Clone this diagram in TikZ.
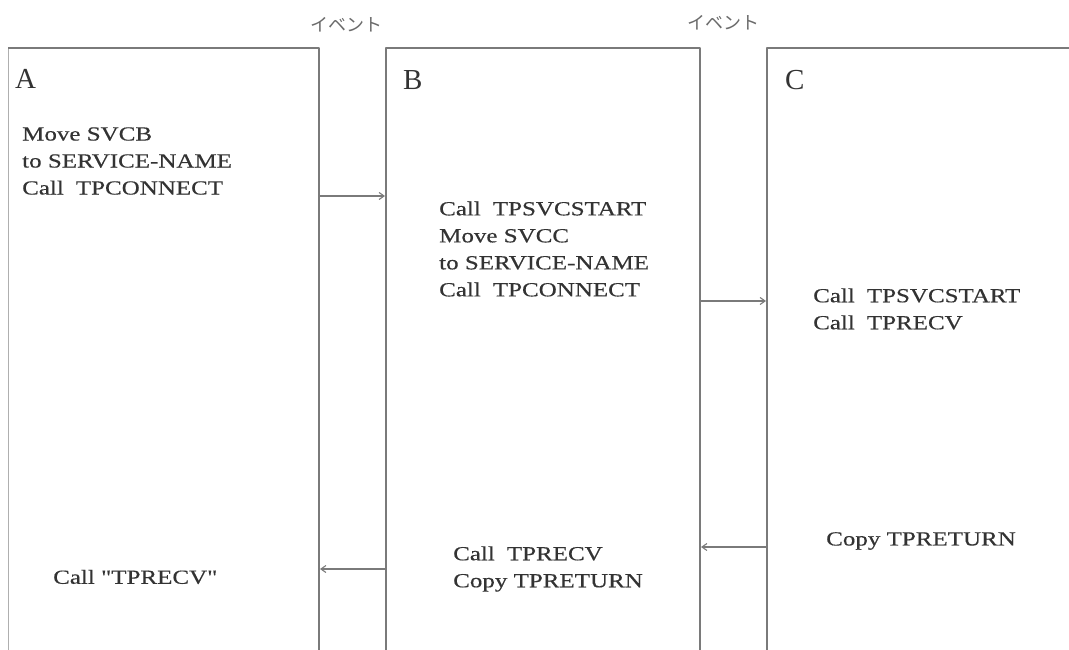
\documentclass[tikz,border=0pt]{standalone}
\usepackage{fontspec}
\setmainfont{Liberation Serif}
\newfontfamily\bodyfont[FakeStretch=1.25,FakeBold=0.4]{Liberation Serif}
\newfontfamily\jpfont{Noto Sans CJK JP}
\usetikzlibrary{arrows.meta}
\usetikzlibrary{positioning}
\definecolor{linegray}{HTML}{7A7A7A}
\definecolor{textgray}{HTML}{333333}
\tikzset{
  lane/.style={draw=linegray,line width=1.6pt},
  msg/.style={draw=linegray,line width=1.1pt,-{Straight Barb[length=5pt,width=7pt]}},
  body/.style={font=\bodyfont\fontsize{20}{27}\selectfont,text=textgray,align=left,anchor=west,inner sep=0pt},
  lanelabel/.style={font=\fontsize{29}{30}\selectfont,text=textgray,anchor=west,inner sep=0pt},
  evt/.style={font=\jpfont\fontsize{18}{18}\selectfont,text=black!58,inner sep=0pt}
}
\newcommand{\callgap}{\hspace{12pt}}

\begin{document}
\begin{tikzpicture}[x=1pt,y=-1pt,line join=round]
\useasboundingbox (0,0) rectangle (1069,650);
% --- the three processes, open at the bottom
\draw[lane,draw=linegray!60,line width=1pt] (8,650) -- (8,48);
\draw[lane] (8,48) -- (319,48) -- (319,650);
\draw[lane] (386,650) -- (386,48) -- (700,48) -- (700,650);
\draw[lane] (767,650) -- (767,48) -- (1069,48);
\node[lanelabel] (labA) at (15,79) {A};
\node[lanelabel] (labB) at (403,80) {B};
\node[lanelabel] (labC) at (785,80) {C};
% --- events between the processes
\node[evt] (evtAB) at (346,25) {イベント};
\node[evt] (evtBC) at (723,23) {イベント};
% --- ends of the messages on the lane edges
\coordinate (aOut) at (319,196);
\coordinate (bIn) at (385,196);
\coordinate (bOut) at (700,301);
\coordinate (cIn) at (766,301);
\coordinate (cRet) at (767,547);
\coordinate (bRet) at (701,547);
\coordinate (bBack) at (386,569);
\coordinate (aBack) at (320,569);
% --- program steps
\node[body] (stepA) at (22,161) {Move SVCB\\to SERVICE-NAME\\Call\callgap TPCONNECT};
\node[body] (stepB) at (439,249) {Call\callgap TPSVCSTART\\Move SVCC\\to SERVICE-NAME\\Call\callgap TPCONNECT};
\node[body] (stepC) at (813,309) {Call\callgap TPSVCSTART\\Call\callgap TPRECV};
\node[body] (retC) at (826,541) {Copy TPRETURN};
\node[body] (retB) at (453,569) {Call\callgap TPRECV\\Copy TPRETURN};
\node[body] (recvA) at (53,577) {Call "TPRECV"};
% --- messages
\draw[msg] (aOut) -- (bIn);
\draw[msg] (bOut) -- (cIn);
\draw[msg] (cRet) -- (bRet);
\draw[msg] (bBack) -- (aBack);
\end{tikzpicture}
\end{document}
